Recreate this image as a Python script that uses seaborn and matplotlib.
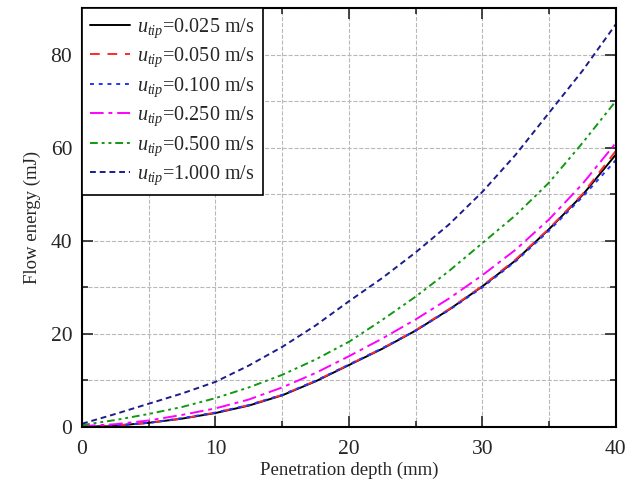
import pandas as pd
import seaborn as sns
import matplotlib.pyplot as plt
from matplotlib.ticker import MultipleLocator

# ---------------------------- data ---------------------------- #
depth = [0, 2.5, 5, 7.5, 10, 12.5, 15, 17.5, 20, 22.5, 25, 27.5, 30, 32.5, 35, 37.5, 40]

e_0025 = [0.0, 0.3, 0.9, 1.8, 3.0, 4.6, 6.8, 9.8, 13.3, 16.8, 20.7, 25.2, 30.2, 35.8, 42.5, 49.8, 58.5]
e_0050 = [0.0, 0.3, 0.9, 1.8, 3.1, 4.7, 6.9, 9.9, 13.4, 16.9, 20.8, 25.3, 30.3, 36.0, 42.6, 50.0, 59.3]
e_0100 = [0.0, 0.3, 0.9, 1.9, 3.1, 4.7, 6.9, 9.9, 13.4, 16.9, 20.7, 25.1, 30.0, 35.6, 42.2, 49.4, 57.3]
e_0250 = [0.2, 0.6, 1.4, 2.6, 4.0, 5.9, 8.5, 11.6, 15.2, 19.0, 23.1, 27.6, 32.6, 38.1, 44.6, 52.2, 61.0]
e_0500 = [0.4, 1.5, 2.8, 4.3, 6.2, 8.5, 11.2, 14.5, 18.3, 23.0, 28.0, 33.5, 39.5, 45.5, 52.5, 61.0, 70.0]
e_1000 = [0.7, 2.8, 5.0, 7.2, 9.7, 13.2, 17.2, 21.8, 27.0, 32.0, 37.5, 43.5, 50.5, 58.5, 67.5, 76.5, 86.5]

labels = ['0.025', '0.050', '0.100', '0.250', '0.500', '1.000']
series = [e_0025, e_0050, e_0100, e_0250, e_0500, e_1000]
colors = ['black', '#ff2a2a', '#2233ff', '#ff00ff', '#119911', '#1c1c8c']
dashes = [(None, None), (5, 4), (2, 2.5), (7, 2.5, 2, 2.5), (4, 2, 1.5, 2, 1.5, 2), (3, 2)]

# ---------------------------------- style ---------------------------------- #
sns.set_style('ticks')
plt.rcParams['font.family'] = ['Liberation Serif', 'DejaVu Serif']
plt.rcParams['mathtext.fontset'] = 'custom'
plt.rcParams['mathtext.rm'] = 'Liberation Serif'
plt.rcParams['mathtext.it'] = 'Liberation Serif:italic'

fig = plt.figure(figsize=(6.29, 4.88), dpi=100)
ax = fig.add_axes([0.1304, 0.125, 0.8486, 0.8586])

for lab, vals, col, ds in zip(labels, series, colors, dashes):
    df = pd.DataFrame({'depth': depth, 'energy': vals})
    sns.lineplot(data=df, x='depth', y='energy', color=col, lw=1.4,
                 label=r'$u_{tip}$=' + lab + ' m/s', ax=ax)
    if ds[0] is not None:
        ax.lines[-1].set_dashes(ds)

ax.set_xlim(0, 40)
ax.set_ylim(0, 90)
ax.xaxis.set_major_locator(MultipleLocator(10))
ax.xaxis.set_minor_locator(MultipleLocator(5))
ax.yaxis.set_major_locator(MultipleLocator(20))
ax.yaxis.set_minor_locator(MultipleLocator(10))
ax.grid(True, which='both', ls='--', color='#b8b8b8', lw=0.8)
ax.tick_params(which='both', direction='in', top=True, right=True, labelsize=15.5, width=1.2)
ax.tick_params(which='major', length=8)
ax.tick_params(which='minor', length=4)
ax.tick_params(axis='x', pad=9)
ax.tick_params(axis='y', pad=7)
for s in ax.spines.values():
    s.set_linewidth(1.5)
    s.set_color('black')

ax.set_xlabel('Penetration depth (mm)', fontsize=13.5, labelpad=2)
ax.set_ylabel('Flow energy (mJ)', fontsize=13.5, labelpad=7)

leg = ax.legend(loc='upper left', fontsize=14.5, frameon=True, fancybox=False,
                edgecolor='black', borderaxespad=0, handlelength=2.0,
                handletextpad=0.35, labelspacing=0.3, borderpad=0.4)
leg.get_frame().set_linewidth(1.2)
leg.get_frame().set_alpha(1)

fig.savefig('out.png', dpi=100)
